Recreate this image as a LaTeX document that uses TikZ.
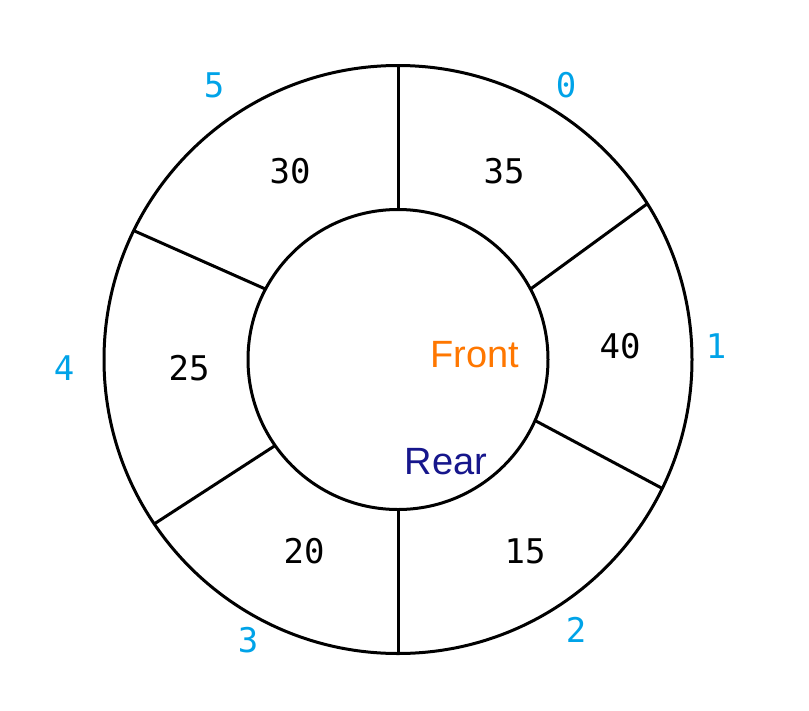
\documentclass[tikz,border=0pt]{standalone}
\usepackage{fontspec}
\setmonofont{DejaVu Sans Mono}
\setsansfont{Liberation Sans}
\definecolor{idxcyan}{RGB}{0,163,232}
\definecolor{frontorange}{RGB}{255,119,0}
\definecolor{rearblue}{RGB}{22,22,140}
\tikzset{
  ring/.style={circle, draw=black, line width=3pt, inner sep=0pt, outer sep=0pt},
  spoke/.style={draw=black, line width=3pt},
  valtext/.style={inner sep=0pt, font=\ttfamily\fontsize{34}{40}\selectfont, text=black},
  idxtext/.style={inner sep=0pt, font=\ttfamily\fontsize{34}{40}\selectfont, text=idxcyan},
  ptrtext/.style={inner sep=0pt, font=\sffamily\fontsize{38}{44}\selectfont}
}
\begin{document}
\begin{tikzpicture}[x=1pt,y=-1pt]
\useasboundingbox (0,0) rectangle (809,710);
\node[ring, minimum size=588pt] (outer) at (398,359.5) {};
\node[ring, minimum size=300pt] (inner) at (398,359.5) {};
% spokes
\draw[spoke] (outer.90) -- (inner.90);
\draw[spoke] (outer.270) -- (inner.270);
\draw[spoke] (outer.32.2) -- (inner.28.8);
\draw[spoke] (outer.-26.2) -- (inner.-24.2);
\draw[spoke] (outer.154.6) -- (inner.152.8);
\draw[spoke] (outer.214.2) -- (inner.215.3);
% values
\node[valtext] (v0) at (504,171) {35};
\node[valtext] (v1) at (620,346) {40};
\node[valtext] (v2) at (525,551) {15};
\node[valtext] (v3) at (304,551) {20};
\node[valtext] (v4) at (189,368) {25};
\node[valtext] (v5) at (290,171) {30};
% indices
\node[idxtext] (i0) at (566,85) {0};
\node[idxtext] (i1) at (716,346) {1};
\node[idxtext] (i2) at (576,630) {2};
\node[idxtext] (i3) at (248,640) {3};
\node[idxtext] (i4) at (64,368) {4};
\node[idxtext] (i5) at (214,85) {5};
% pointers
\node[ptrtext, text=frontorange] (front) at (475,355) {Front};
\node[ptrtext, text=rearblue] (rear) at (446,462) {Rear};
\end{tikzpicture}
\end{document}
